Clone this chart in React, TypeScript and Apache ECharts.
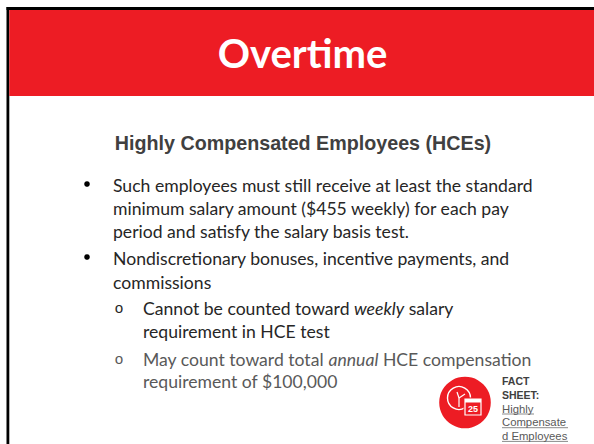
import React, { useEffect, useRef } from "react";
import * as echarts from "echarts";

const titleText = "Overtime";
const subtitleText = "Highly Compensated Employees (HCEs)";
const bodyFont = "Lato, 'Open Sans', sans-serif";
const bodyColor = "#262626";
const softColor = "#595959";
const bodySize = 17.6;

const firstBullet = [
  "Such employees must still receive at least the standard",
  "minimum salary amount ($455 weekly) for each pay",
  "period and satisfy the salary basis test.",
];
const secondBullet = ["Nondiscretionary bonuses, incentive payments, and", "commissions"];
const factLines = ["FACT", "SHEET:"];
const linkLines = ["Highly", "Compensate", "d Employees"];
const linkEnds = [534, 568, 568];

function txt(x: number, y: number, text: string, fill: string) {
  return { type: "text", x, y, style: { text, fontSize: bodySize, fill, fontFamily: bodyFont, verticalAlign: "middle", align: "left" } };
}
function rich(x: number, y: number, text: string, fill: string) {
  return {
    type: "text", x, y,
    style: {
      text, verticalAlign: "middle", align: "left",
      rich: {
        a: { fontSize: bodySize, fill, fontFamily: bodyFont },
        i: { fontSize: bodySize, fill, fontFamily: bodyFont, fontStyle: "italic" },
      },
    },
  };
}

export default function App() {
  const ref = useRef<HTMLDivElement>(null);
  useEffect(() => {
    document.body.style.margin = "0";
    const chart = echarts.init(ref.current!, null, { renderer: "svg" });
    const elements: any[] = [
      { type: "rect", shape: { x: 6, y: 7, width: 588, height: 437 }, style: { fill: "#fff" } },
      { type: "rect", shape: { x: 6.5, y: 7, width: 587.5, height: 3 }, style: { fill: "#000" } },
      { type: "rect", shape: { x: 6.5, y: 7, width: 2.8, height: 437 }, style: { fill: "#000" } },
      { type: "rect", shape: { x: 9.3, y: 10, width: 584.7, height: 86 }, style: { fill: "#ed1c24" } },
      { type: "text", x: 302.5, y: 53, style: { text: titleText, fontSize: 40, fontWeight: "bold", fill: "#fff", fontFamily: "Lato, sans-serif", align: "center", verticalAlign: "middle" } },
      { type: "text", x: 303, y: 143, style: { text: subtitleText, fontSize: 19.7, fontWeight: "bold", fill: "#404040", fontFamily: "'Liberation Sans', sans-serif", align: "center", verticalAlign: "middle" } },
      { type: "circle", shape: { cx: 87, cy: 184, r: 2.8 }, style: { fill: "#000" } },
      { type: "circle", shape: { cx: 87, cy: 257, r: 2.8 }, style: { fill: "#000" } },
      txt(113, 185, firstBullet[0], bodyColor),
      txt(113, 208, firstBullet[1], bodyColor),
      txt(113, 231, firstBullet[2], bodyColor),
      txt(113, 258, secondBullet[0], bodyColor),
      txt(113, 282, secondBullet[1], bodyColor),
      { type: "text", x: 114.5, y: 309, style: { text: "o", fontSize: 15, fill: bodyColor, fontFamily: "'Liberation Mono'", verticalAlign: "middle", align: "left" } },
      { type: "text", x: 114.5, y: 360, style: { text: "o", fontSize: 15, fill: softColor, fontFamily: "'Liberation Mono'", verticalAlign: "middle", align: "left" } },
      rich(143, 308, "{a|Cannot be counted toward }{i|weekly}{a| salary}", bodyColor),
      txt(143, 331, "requirement in HCE test", bodyColor),
      rich(143, 359, "{a|May count toward total }{i|annual}{a| HCE compensation}", softColor),
      txt(143, 381, "requirement of $100,000", softColor),
      { type: "circle", shape: { cx: 465, cy: 402.5, r: 25.8 }, style: { fill: "#ed1c24" } },
      { type: "circle", shape: { cx: 459, cy: 398, r: 11.5 }, style: { fill: "none", stroke: "#fff", lineWidth: 1.4 } },
      { type: "line", shape: { x1: 459, y1: 398, x2: 457, y2: 392 }, style: { stroke: "#fff", lineWidth: 1.2 } },
      { type: "line", shape: { x1: 459, y1: 398, x2: 465, y2: 394 }, style: { stroke: "#fff", lineWidth: 1.2 } },
      { type: "line", shape: { x1: 459, y1: 398, x2: 459, y2: 407 }, style: { stroke: "#fff", lineWidth: 1.2 } },
      { type: "rect", shape: { x: 465, y: 399, width: 16, height: 16 }, style: { fill: "#ed1c24", stroke: "#ed1c24", lineWidth: 3 } },
      { type: "rect", shape: { x: 465, y: 399, width: 16, height: 16 }, style: { fill: "#ed1c24", stroke: "#fff", lineWidth: 1.2 } },
      { type: "rect", shape: { x: 465, y: 399, width: 16, height: 3.5 }, style: { fill: "#fff" } },
      { type: "text", x: 473, y: 409, style: { text: "25", fontSize: 9, fontWeight: "bold", fill: "#fff", fontFamily: "'Liberation Sans'", align: "center", verticalAlign: "middle" } },
    ];
    factLines.forEach((t, i) => elements.push({ type: "text", x: 502, y: 381 + i * 13.5, style: { text: t, fontSize: 10.5, fontWeight: "bold", fill: "#404040", fontFamily: "'Liberation Sans'", verticalAlign: "middle", align: "left" } }));
    linkLines.forEach((t, i) => {
      const y = 408.5 + i * 13.7;
      elements.push({ type: "text", x: 502, y, style: { text: t, fontSize: 11.3, fill: softColor, fontFamily: "'Liberation Sans'", verticalAlign: "middle", align: "left" } });
      elements.push({ type: "line", shape: { x1: 502, y1: y + 5.5, x2: linkEnds[i], y2: y + 5.5 }, style: { stroke: softColor, lineWidth: 0.7 } });
    });
    chart.setOption({ animation: false, graphic: { elements } });
    return () => chart.dispose();
  }, []);
  return <div ref={ref} style={{ width: 594, height: 444 }} />;
}
